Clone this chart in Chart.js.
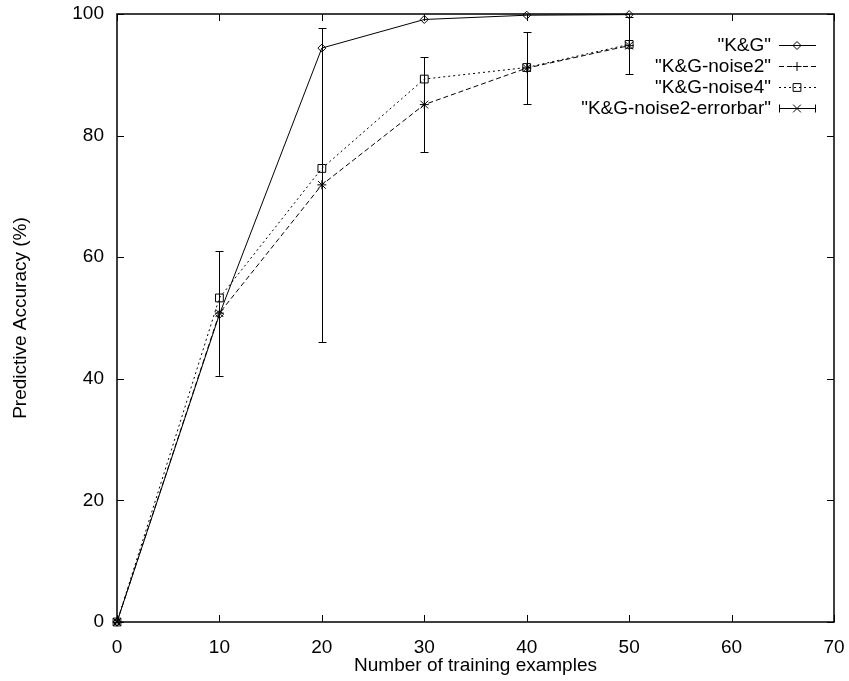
<!DOCTYPE html>
<html>
<head>
<meta charset="utf-8">
<script src="https://cdn.jsdelivr.net/npm/chart.js@4.4.1/dist/chart.umd.min.js"></script>
<style>
  html, body { margin: 0; padding: 0; background: #fff; }
</style>
</head>
<body>
<canvas id="chart" width="849" height="681"></canvas>
<script>
// values
const xVals   = [0, 10, 20, 30, 40, 50];
const kg      = [0, 50.6, 94.4, 99.1, 99.8, 99.9];
const noise2  = [0, 50.8, 71.9, 85.1, 91.1, 94.8];
const noise4  = [0, 53.3, 74.6, 89.3, 91.2, 95.0];
const errMid  = [0, 50.8, 71.9, 85.1, 91.1, 94.8];
const errLow  = [0, 40.5, 46.0, 77.3, 85.2, 90.1];
const errHigh = [0, 61.0, 97.7, 92.9, 97.0, 99.5];
const seriesNames = ['"K&G"', '"K&G-noise2"', '"K&G-noise4"', '"K&G-noise2-errorbar"'];

const FONT = 'Liberation Sans, Arial, Helvetica, sans-serif';
const FSIZE = 19;
const pts = ys => xVals.map((x, i) => ({x, y: ys[i]}));

const baseDs = {
  borderColor: '#000', borderWidth: 1, pointBorderColor: '#000',
  pointBackgroundColor: 'rgba(0,0,0,0)', pointBorderWidth: 1,
  tension: 0, fill: false, clip: false
};

// inward ticks on all four sides + box
const framePlugin = {
  id: 'frame',
  afterDatasetsDraw(chart){
    const {ctx, chartArea: a, scales: {x, y}} = chart;
    ctx.save();
    ctx.strokeStyle = '#000';
    ctx.lineWidth = 1;
    ctx.beginPath();
    x.ticks.forEach(t => {
      const px = Math.round(x.getPixelForValue(t.value)) + 0.5;
      ctx.moveTo(px, a.bottom); ctx.lineTo(px, a.bottom - 7);
      ctx.moveTo(px, a.top);    ctx.lineTo(px, a.top + 7);
    });
    y.ticks.forEach(t => {
      const py = Math.round(y.getPixelForValue(t.value)) + 0.5;
      ctx.moveTo(a.left, py);  ctx.lineTo(a.left + 7, py);
      ctx.moveTo(a.right, py); ctx.lineTo(a.right - 7, py);
    });
    ctx.stroke();
    ctx.lineWidth = 1.5;
    ctx.strokeRect(a.left, a.top, a.right - a.left, a.bottom - a.top);
    ctx.restore();
  }
};

// error bars for the 4th series
const errorBarPlugin = {
  id: 'errbars',
  afterDatasetsDraw(chart){
    const {ctx, scales: {x, y}} = chart;
    ctx.save();
    ctx.strokeStyle = '#000';
    ctx.lineWidth = 1;
    ctx.beginPath();
    xVals.forEach((xv, i) => {
      const px = Math.round(x.getPixelForValue(xv)) + 0.5;
      const yl = y.getPixelForValue(errLow[i]);
      const yh = y.getPixelForValue(errHigh[i]);
      ctx.moveTo(px, yl); ctx.lineTo(px, yh);
      ctx.moveTo(px - 4, Math.round(yl) + 0.5); ctx.lineTo(px + 4, Math.round(yl) + 0.5);
      ctx.moveTo(px - 4, Math.round(yh) + 0.5); ctx.lineTo(px + 4, Math.round(yh) + 0.5);
    });
    ctx.stroke();
    ctx.restore();
  }
};

// gnuplot style key: text right aligned, then the line sample
const keyPlugin = {
  id: 'gkey',
  afterDraw(chart){
    const {ctx} = chart;
    const textRight = 771, x0 = 779, x1 = 816, xm = 797;
    const rows = [45, 66, 87, 108];
    ctx.save();
    ctx.font = FSIZE + 'px ' + FONT;
    ctx.fillStyle = '#000';
    ctx.textAlign = 'right';
    ctx.textBaseline = 'middle';
    chart.data.datasets.forEach((ds, i) => {
      const yy = rows[i] + 0.5;
      ctx.fillText(seriesNames[i], textRight, rows[i] + 1);
      ctx.strokeStyle = '#000';
      ctx.lineWidth = 1;
      ctx.setLineDash(ds.borderDash || []);
      ctx.beginPath();
      ctx.moveTo(x0, yy); ctx.lineTo(x1, yy);
      ctx.stroke();
      ctx.setLineDash([]);
      if (i === 3) {
        ctx.beginPath();
        ctx.moveTo(x0 + 0.5, yy - 4); ctx.lineTo(x0 + 0.5, yy + 4);
        ctx.moveTo(x1 - 0.5, yy - 4); ctx.lineTo(x1 - 0.5, yy + 4);
        ctx.stroke();
      }
      ctx.fillStyle = 'rgba(0,0,0,0)';
      Chart.helpers.drawPoint(ctx, {
        pointStyle: ds.pointStyle, radius: ds.pointRadius, rotation: 0, borderWidth: 1
      }, xm, yy);
      ctx.fillStyle = '#000';
    });
    ctx.restore();
  }
};

new Chart(document.getElementById('chart'), {
  type: 'line',
  data: {
    datasets: [
      Object.assign({}, baseDs, { label: seriesNames[0], data: pts(kg),
        pointStyle: 'rectRot', pointRadius: 4 }),
      Object.assign({}, baseDs, { label: seriesNames[1], data: pts(noise2),
        borderDash: [5, 3], pointStyle: 'cross', pointRadius: 4.5 }),
      Object.assign({}, baseDs, { label: seriesNames[2], data: pts(noise4),
        borderDash: [2, 3], pointStyle: 'rect', pointRadius: 5.5 }),
      Object.assign({}, baseDs, { label: seriesNames[3], data: pts(errMid),
        showLine: false, pointStyle: 'crossRot', pointRadius: 5.5 })
    ]
  },
  options: {
    responsive: false,
    devicePixelRatio: 1,
    animation: false,
    layout: { padding: { left: 0, top: 14, right: 15, bottom: 0 } },
    plugins: { legend: { display: false }, tooltip: { enabled: false } },
    scales: {
      x: {
        type: 'linear', min: 0, max: 70,
        grid: { display: false, drawTicks: false },
        border: { display: false },
        ticks: { stepSize: 10, color: '#000', padding: 14, font: { family: FONT, size: FSIZE } },
        title: { display: true, text: 'Number of training examples', color: '#000',
          font: { family: FONT, size: FSIZE }, padding: { top: 0, bottom: 4 } },
        afterFit: s => { s.height = 59; s.paddingLeft = 0; s.paddingRight = 0; }
      },
      y: {
        type: 'linear', min: 0, max: 100,
        grid: { display: false, drawTicks: false },
        border: { display: false },
        ticks: { stepSize: 20, color: '#000', padding: 13, font: { family: FONT, size: FSIZE } },
        title: { display: true, text: 'Predictive Accuracy (%)', color: '#000',
          font: { family: FONT, size: FSIZE }, padding: { top: 9, bottom: 0 } },
        afterFit: s => { s.width = 117; s.paddingTop = 0; s.paddingBottom = 0; }
      }
    }
  },
  plugins: [framePlugin, errorBarPlugin, keyPlugin]
});
</script>
</body>
</html>
